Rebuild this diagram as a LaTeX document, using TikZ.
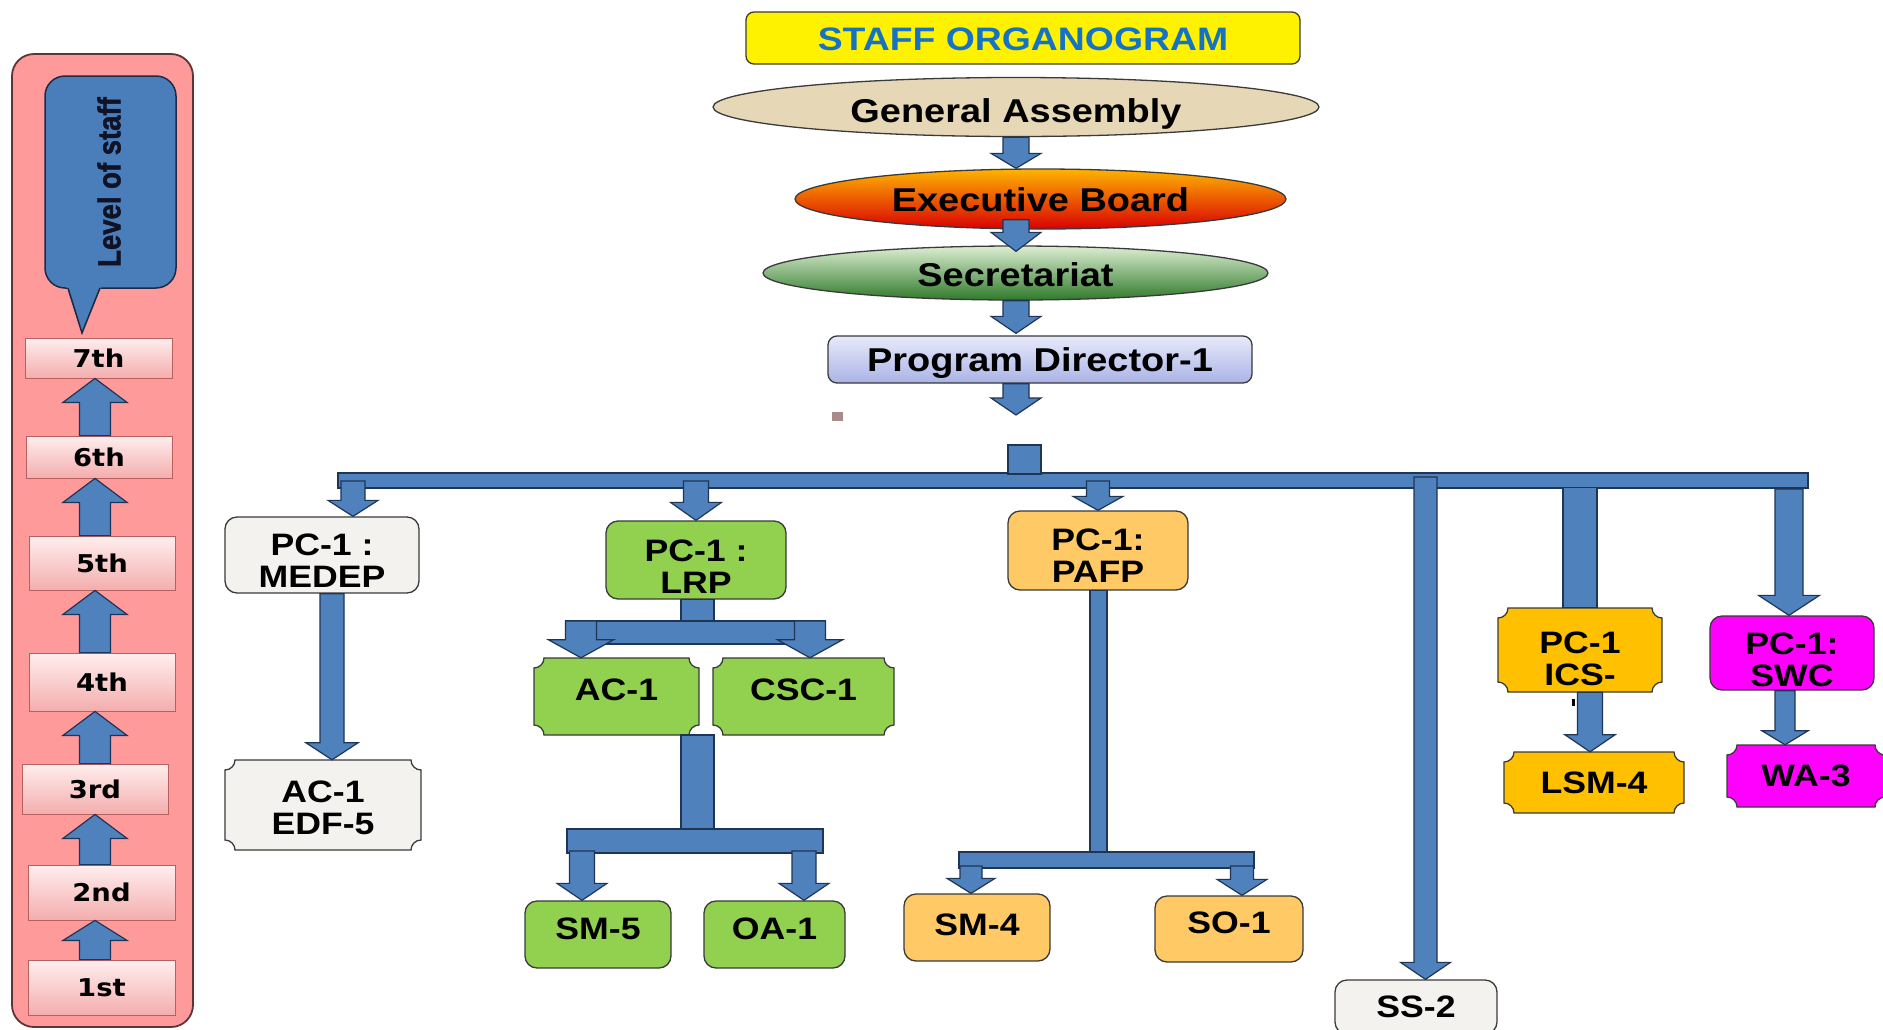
\documentclass[tikz,border=0pt]{standalone}
\usepackage{fontspec}
\setmainfont{Liberation Sans}[FakeStretch=1.15]
\newfontfamily\lvfam{DejaVu Sans}[FakeStretch=1.12]
\newfontfamily\plainfam{Liberation Sans}[FakeStretch=0.86, BoldFeatures={FakeBold=1.5}]
\usetikzlibrary{shapes.geometric,calc}

\definecolor{ablue}{HTML}{4F81BD}
\definecolor{aedge}{HTML}{1F3556}
\definecolor{panelfill}{HTML}{FF9A9A}
\definecolor{paneledge}{HTML}{5E3434}
\definecolor{bubfill}{HTML}{4A7EBB}
\definecolor{bubedge}{HTML}{1E2A44}
\definecolor{lvtop}{HTML}{FFEEEE}
\definecolor{lvbot}{HTML}{F4ADAD}
\definecolor{lvedge}{HTML}{B86060}
\definecolor{lvtext}{HTML}{101225}
\definecolor{titleblue}{HTML}{1673C4}
\definecolor{gafill}{HTML}{E6D7B6}
\definecolor{darkedge}{HTML}{3A3A3A}
\definecolor{ebtop}{HTML}{FFB400}
\definecolor{ebmid}{HTML}{FF3A00}
\definecolor{ebbot}{HTML}{D80000}
\definecolor{sectop}{HTML}{DDEED3}
\definecolor{secmid}{HTML}{86BC6A}
\definecolor{secbot}{HTML}{2F7A2A}
\definecolor{pdtop}{HTML}{E8EAFB}
\definecolor{pdbot}{HTML}{AAB3E6}
\definecolor{grayfill}{HTML}{F3F2EE}
\definecolor{lgreen}{HTML}{92D050}
\definecolor{lorange}{HTML}{FFC966}
\definecolor{dorange}{HTML}{FFC000}
\definecolor{magent}{HTML}{FF00FF}
\definecolor{stray}{HTML}{A88C8C}

\newcommand\bxfont{\bfseries\fontsize{31}{32}\selectfont}
\newcommand\topfont{\bfseries\fontsize{33}{36}\selectfont}
\newcommand\lift[1]{\rule{0pt}{#1pt}}

\newcommand\darr[5]{\path[barrow] let \p1=#1, \p2=#2 in
  (\x2-#3,\y1) -- (\x2+#3,\y1) -- (\x2+#3,\y2+#5) -- (\x2+#4,\y2+#5) -- (\x2,\y2) -- (\x2-#4,\y2+#5) -- (\x2-#3,\y2+#5) -- cycle;}
\newcommand\uarr[5]{\path[barrow] let \p1=#1, \p2=#2 in
  (\x2-#3,\y1) -- (\x2+#3,\y1) -- (\x2+#3,\y2-#5) -- (\x2+#4,\y2-#5) -- (\x2,\y2) -- (\x2-#4,\y2-#5) -- (\x2-#3,\y2-#5) -- cycle;}

\newcommand\plaq[8]{%
 \path[#6] ({#2-#4/2+10},{#3-#5/2}) -- ({#2+#4/2-10},{#3-#5/2})
   .. controls ({#2+#4/2-10},{#3-#5/2+5.5}) and ({#2+#4/2-5.5},{#3-#5/2+10}) .. ({#2+#4/2},{#3-#5/2+10})
   -- ({#2+#4/2},{#3+#5/2-10})
   .. controls ({#2+#4/2-5.5},{#3+#5/2-10}) and ({#2+#4/2-10},{#3+#5/2-5.5}) .. ({#2+#4/2-10},{#3+#5/2})
   -- ({#2-#4/2+10},{#3+#5/2})
   .. controls ({#2-#4/2+10},{#3+#5/2-5.5}) and ({#2-#4/2+5.5},{#3+#5/2-10}) .. ({#2-#4/2},{#3+#5/2-10})
   -- ({#2-#4/2},{#3-#5/2+10})
   .. controls ({#2-#4/2+5.5},{#3-#5/2+10}) and ({#2-#4/2+10},{#3-#5/2+5.5}) .. ({#2-#4/2+10},{#3-#5/2}) -- cycle;
 \node[plaqtext, minimum width=#4, minimum height=#5, #8] (#1) at (#2,#3) {#7};}

\tikzset{
  barrow/.style={fill=ablue, draw=aedge, line width=1.2pt, line join=miter},
  lvbox/.style={rectangle, top color=lvtop, bottom color=lvbot, draw=lvedge, line width=0.8pt,
     font=\lvfam\bfseries\fontsize{24.5}{26}\selectfont, inner sep=0pt},
  ell/.style={ellipse, draw=darkedge, line width=1.3pt, inner sep=0pt, font=\topfont},
  rbox/.style={rectangle, rounded corners=12pt, draw=darkedge, line width=1.3pt, align=center,
     font=\bxfont, inner sep=0pt},
  plaqtext/.style={rectangle, align=center, font=\bxfont, inner sep=0pt},
  pq/.style={draw=darkedge, line width=1.3pt, fill=#1},
}

\begin{document}
\begin{tikzpicture}[x=1pt,y=-1pt]
\useasboundingbox (0,0) rectangle (1883,1029);
\fill[white] (0,0) rectangle (1883,1029);

% ---------- left panel ----------
\draw[fill=panelfill, draw=paneledge, line width=1.8pt, rounded corners=22pt] (12,54) rectangle (193,1027);
\draw[fill=bubfill, draw=bubedge, line width=1.5pt, rounded corners=20pt] (45,76) rectangle (176,288);
\fill[bubfill] (66,285) -- (82,333) -- (102,285) -- cycle;
\draw[bubedge, line width=1.5pt, line join=miter] (68,288) -- (82,333) -- (100,288);
\node[rotate=90, font=\plainfam\bfseries\fontsize{32}{34}\selectfont, text=lvtext] (lvl) at (109,182) {Level of staff};

\node[lvbox, minimum width=147, minimum height=40] (l7) at (98.5,358) {7th};
\node[lvbox, minimum width=146, minimum height=42] (l6) at (99,457) {6th};
\node[lvbox, minimum width=146, minimum height=54] (l5) at (102,563) {5th};
\node[lvbox, minimum width=146, minimum height=58] (l4) at (102,682) {4th};
\node[lvbox, minimum width=146, minimum height=50] (l3) at (95,789) {3rd};
\node[lvbox, minimum width=147, minimum height=55] (l2) at (101.5,892.5) {2nd};
\node[lvbox, minimum width=147, minimum height=55] (l1) at (101.5,987.5) {1st};

\coordinate (xa) at (95,0);
\uarr{(l6.north)}{(l7.south -| xa)}{15.5pt}{32pt}{24pt}
\uarr{(l5.north)}{(l6.south -| xa)}{15.5pt}{32pt}{24pt}
\uarr{(l4.north)}{(l5.south -| xa)}{15.5pt}{32pt}{24pt}
\uarr{(l3.north)}{(l4.south -| xa)}{15.5pt}{32pt}{24pt}
\uarr{(l2.north)}{(l3.south -| xa)}{15.5pt}{32pt}{24pt}
\uarr{(l1.north)}{(l2.south -| xa)}{15.5pt}{32pt}{20pt}

% ---------- top chain ----------
\node[rectangle, rounded corners=8pt, fill=yellow, draw=darkedge, line width=1.3pt,
      minimum width=554, minimum height=52, inner sep=0pt, text height=24pt, text depth=0pt,
      font=\bfseries\fontsize{32.5}{34}\selectfont, text=titleblue] (title) at (1023,38) {STAFF ORGANOGRAM};
\node[ell, fill=gafill, minimum width=606, minimum height=59, text height=31pt, text depth=0pt] (ga) at (1016,107) {General Assembly};
\node[ell, top color=ebtop, middle color=ebmid, bottom color=ebbot, minimum width=491, minimum height=60, text height=24pt, text depth=0pt] (eb) at (1040.5,199) {Executive Board};
\node[ell, top color=sectop, middle color=secmid, bottom color=secbot, minimum width=505, minimum height=54, text height=27pt, text depth=0pt] (sec) at (1015.5,273) {Secretariat};
\node[rectangle, rounded corners=9pt, top color=pdtop, bottom color=pdbot, draw=darkedge, line width=1.3pt,
      minimum width=424, minimum height=47, inner sep=0pt, text height=24pt, text depth=0pt, font=\topfont] (pd) at (1040,359.5) {Program Director-1};

\coordinate (xc) at (1016,0);
\coordinate (pdtip) at (1016,415);
\darr{(ga.south)}{(eb.north -| xc)}{13pt}{25pt}{15pt}
\darr{($(eb.south)+(0,-10)$)}{($(sec.north -| xc)+(0,6)$)}{13pt}{25pt}{19pt}
\darr{(sec.south)}{($(pd.north -| xc)+(0,-2)$)}{13pt}{25pt}{17pt}
\darr{(pd.south)}{(pdtip)}{13pt}{25pt}{17pt}
\fill[stray] (832,412) rectangle (843,421);

% ---------- second level boxes ----------
\node[rbox, fill=grayfill, minimum width=194, minimum height=76] (medep) at (322,555) {\lift{33}PC-1 :\\MEDEP};
\plaq{edf}{323}{805}{196}{90}{pq=grayfill}{\lift{27}AC-1\\EDF-5}{}
\node[rbox, fill=lgreen, minimum width=180, minimum height=78] (lrp) at (696,560) {\lift{35}PC-1 :\\LRP};
\plaq{ac1}{616.5}{696.5}{165}{77}{pq=lgreen}{AC-1}{text depth=13pt}
\plaq{csc}{803.5}{696.5}{181}{77}{pq=lgreen}{CSC-1}{text depth=13pt}
\node[rbox, fill=lgreen, minimum width=146, minimum height=67, text depth=12pt] (sm5) at (598,934.5) {SM-5};
\node[rbox, fill=lgreen, minimum width=141, minimum height=67, text depth=12pt] (oa1) at (774.5,934.5) {OA-1};
\node[rbox, fill=lorange, minimum width=180, minimum height=79] (pafp) at (1098,550.5) {\lift{32}PC-1:\\PAFP};
\node[rbox, fill=lorange, minimum width=146, minimum height=67, text depth=5pt] (sm4) at (977,927.5) {SM-4};
\node[rbox, fill=lorange, minimum width=148, minimum height=66, text depth=13pt] (so1) at (1229,929) {SO-1};
\node[rbox, fill=grayfill, minimum width=162, minimum height=54] (ss2) at (1416,1007) {SS-2};
\plaq{ics}{1580}{650}{164}{84}{pq=dorange}{\lift{39}PC-1\\ICS-}{}
\plaq{lsm}{1594}{782.5}{180}{61}{pq=dorange}{LSM-4}{}
\node[rbox, fill=magent, minimum width=164, minimum height=74] (swc) at (1792,653) {\lift{36}PC-1:\\SWC};
\plaq{wa}{1806}{776}{158}{62}{pq=magent}{WA-3}{}
\fill[black] (1572,699) rectangle (1575,706);

% ---------- blue connectors ----------
\coordinate (barL) at (338,473);
\coordinate (barR) at (1808,488);
\coordinate (stubA) at (1008,445);
\coordinate (stubB) at (1041,474);
\path[barrow] (barL) rectangle (barR);
\path[barrow] (stubA) rectangle (stubB);

\coordinate (barin) at (0,481);
\coordinate (xm) at (353,0);
\coordinate (xl) at (696,0);
\coordinate (xp) at (1098,0);
\coordinate (xs) at (1425.5,0);
\coordinate (xw) at (1789,0);
\darr{(barin)}{(medep.north -| xm)}{12pt}{25pt}{16pt}
\darr{(barin)}{(lrp.north -| xl)}{12.5pt}{25.5pt}{18pt}
\darr{(barin)}{(pafp.north -| xp)}{11.5pt}{25pt}{14pt}
\darr{(0,477)}{(ss2.north -| xs)}{11.5pt}{25pt}{17pt}
\darr{(0,489)}{(swc.north -| xw)}{14pt}{30.5pt}{20pt}
\path[barrow] ($(ics.north)+(-17,-120)$) rectangle ($(ics.north)+(17,0)$);

% MEDEP branch
\coordinate (xe) at (332,0);
\darr{(medep.south)}{(edf.north -| xe)}{12pt}{26pt}{17pt}

% LRP branch
\path[barrow] ($(lrp.south)+(-15,0)$) rectangle ($(lrp.south)+(18,22)$);
\coordinate (lb1) at (566,621);
\coordinate (lb2) at (825,644);
\path[barrow] (lb1) rectangle (lb2);
\coordinate (xa1) at (581,0);
\coordinate (xcs) at (810,0);
\darr{(lb1)}{(ac1.north -| xa1)}{15.5pt}{32.5pt}{18pt}
\darr{(lb1)}{(csc.north -| xcs)}{15.5pt}{32.5pt}{18pt}
\coordinate (vc1) at (681,735);
\coordinate (vc2) at (714,829);
\path[barrow] (vc1) rectangle (vc2);
\coordinate (lc1) at (567,829);
\coordinate (lc2) at (823,853);
\path[barrow] (lc1) rectangle (lc2);
\coordinate (xs5) at (582,0);
\coordinate (xo1) at (804,0);
\darr{(0,851)}{(sm5.north -| xs5)}{12.5pt}{25pt}{17pt}
\darr{(0,851)}{(oa1.north -| xo1)}{12pt}{25pt}{17pt}

% PAFP branch
\coordinate (pv) at (1107,854);
\path[barrow] ($(pafp.south)+(-8,0)$) rectangle (pv);
\coordinate (pb1) at (959,852);
\coordinate (pb2) at (1254,868);
\path[barrow] (pb1) rectangle (pb2);
\coordinate (xs4) at (971,0);
\coordinate (xso) at (1242,0);
\darr{(0,866)}{(sm4.north -| xs4)}{11pt}{24pt}{15pt}
\darr{(0,866)}{(so1.north -| xso)}{11.5pt}{25pt}{16pt}

% ICS and SWC children
\coordinate (xi) at (1590,0);
\coordinate (xwa) at (1785,0);
\darr{(ics.south)}{(lsm.north -| xi)}{12.5pt}{25pt}{17pt}
\darr{(swc.south)}{(wa.north -| xwa)}{10pt}{23pt}{14pt}
\end{tikzpicture}
\end{document}
